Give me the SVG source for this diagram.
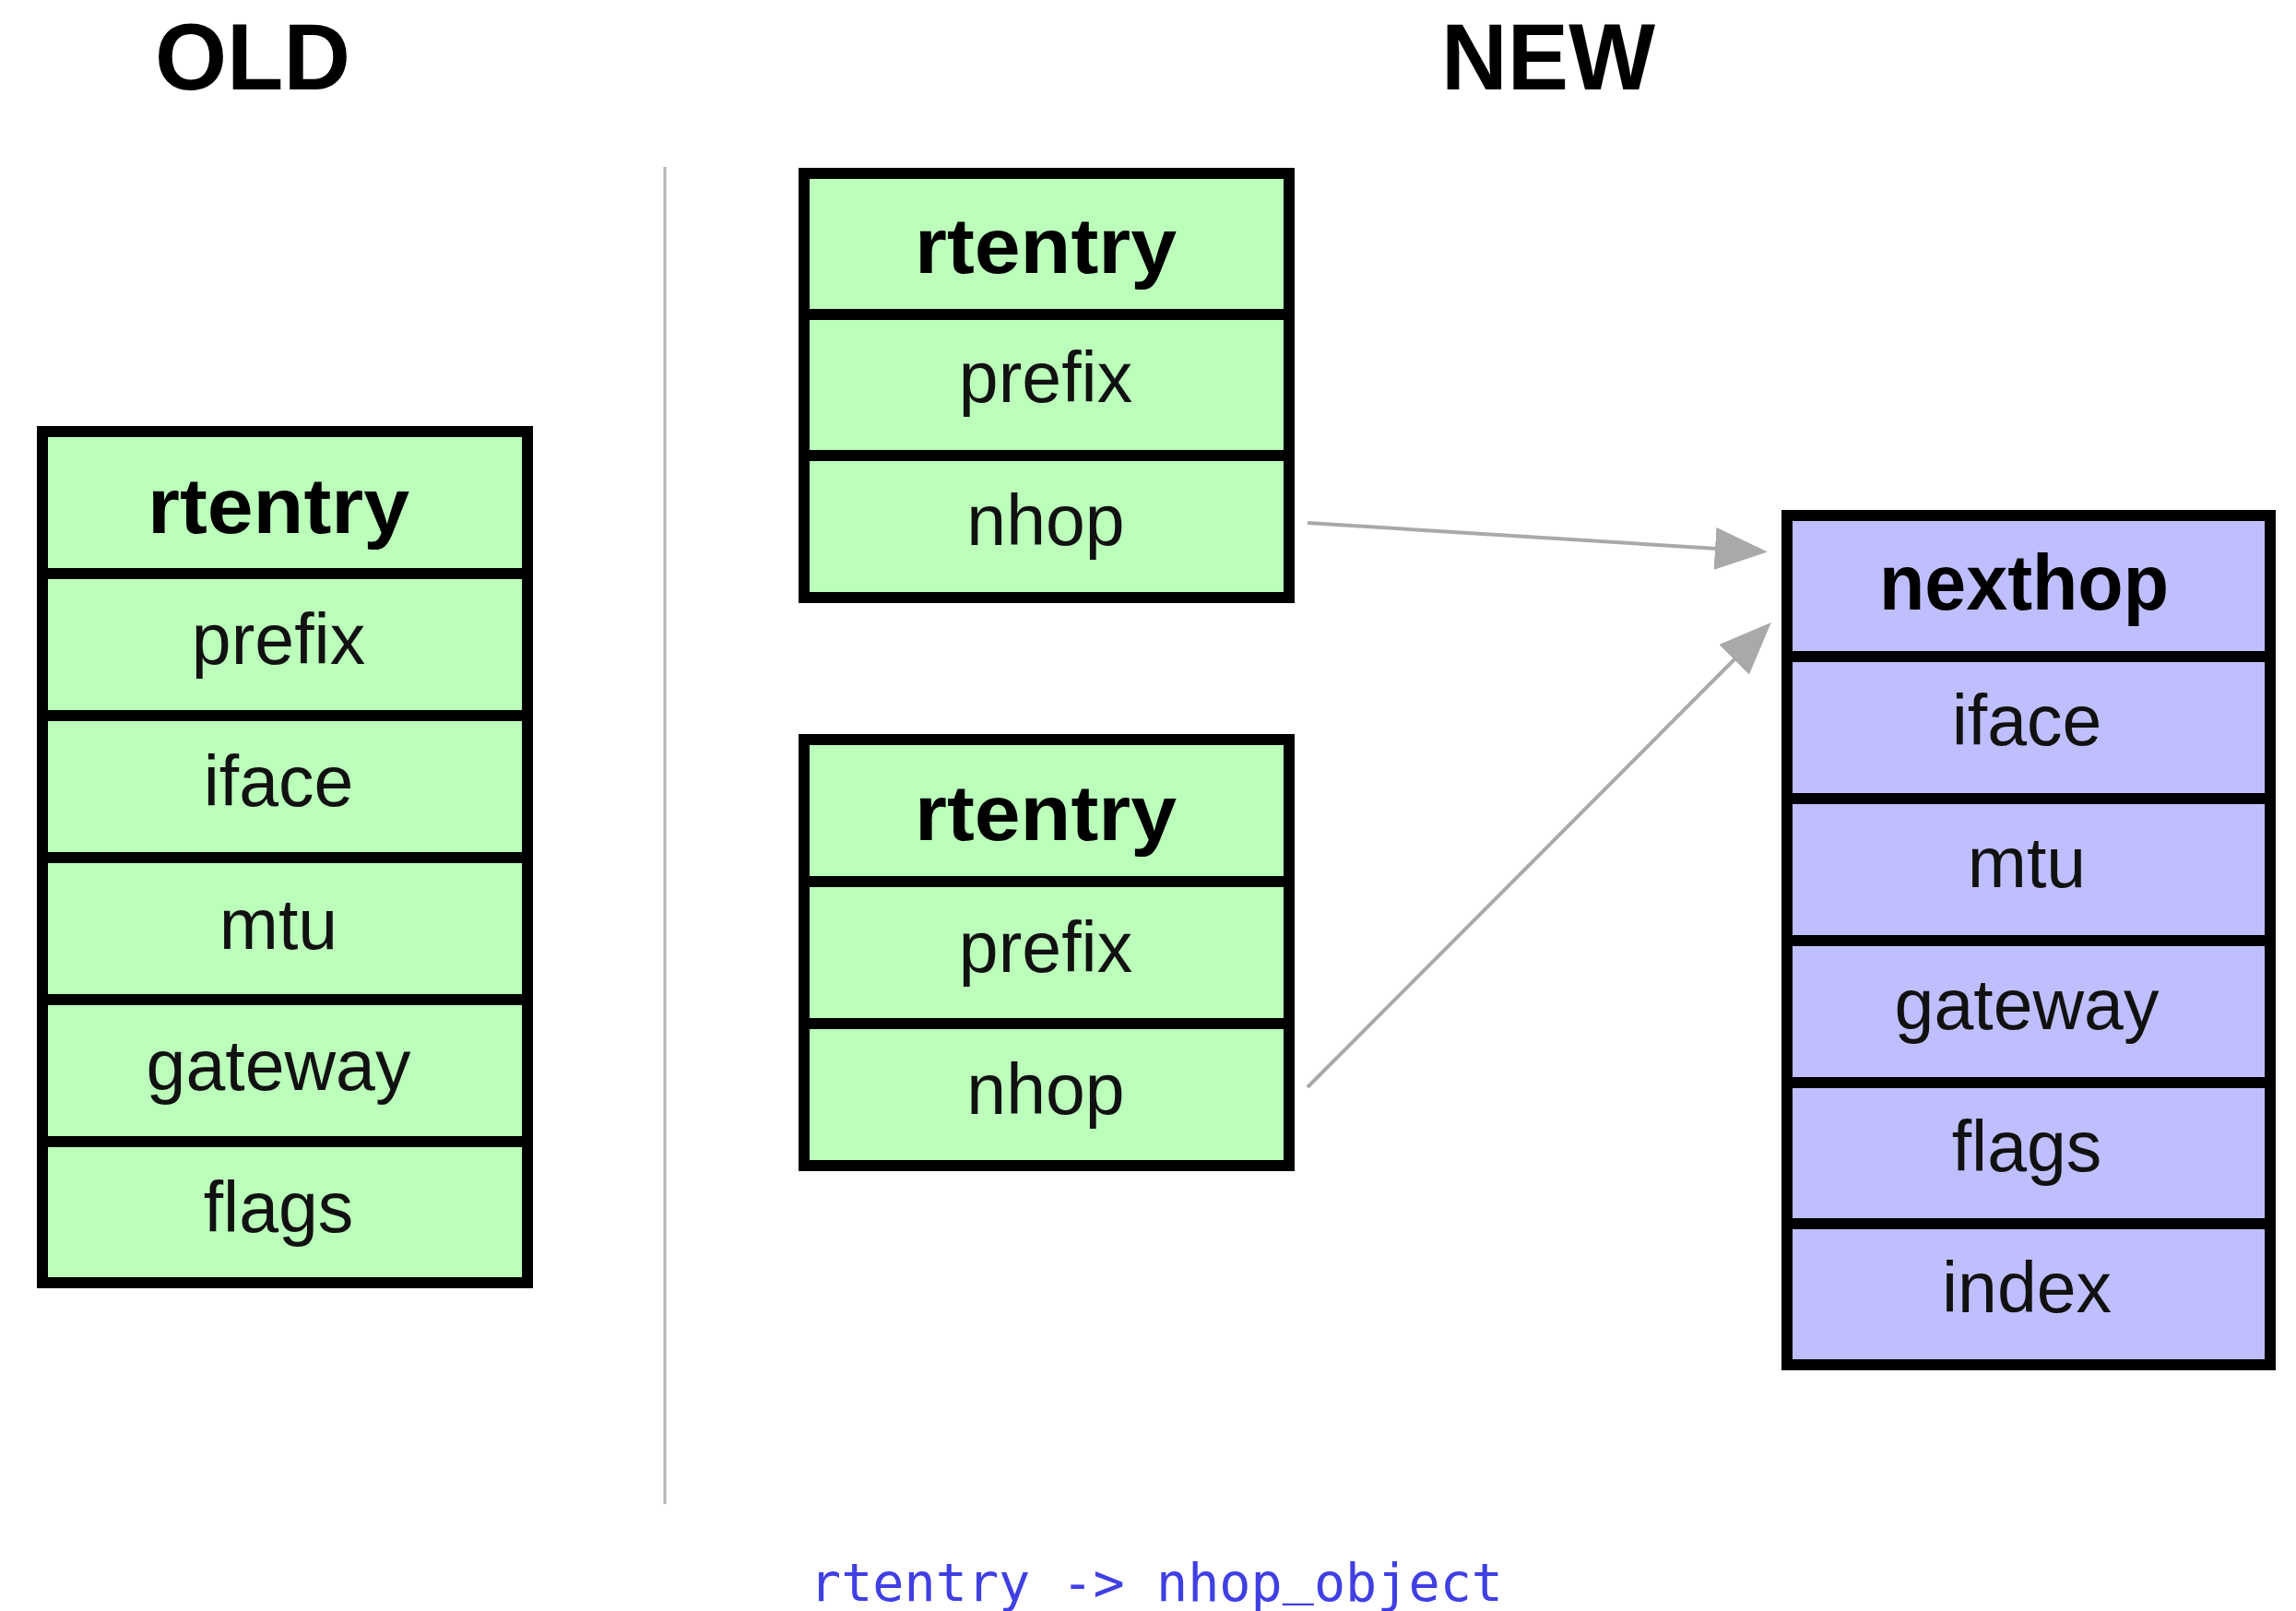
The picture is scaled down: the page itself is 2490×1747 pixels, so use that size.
<svg xmlns="http://www.w3.org/2000/svg" width="2490" height="1747" viewBox="0 0 2490 1747">
  <style>
    .title { font-family: "Liberation Sans", Arial, Helvetica, sans-serif; font-weight: bold; font-size: 102px; fill: #000; text-anchor: middle; }
    .box { stroke: #000; stroke-width: 12; stroke-linejoin: miter; }
    .green { fill: #bbffbb; }
    .purple { fill: #bfbfff; }
    .sep { stroke: #000; stroke-width: 12; }
    .head { font-family: "Liberation Sans", Arial, Helvetica, sans-serif; font-weight: bold; font-size: 86px; fill: #000; text-anchor: middle; }
    .field { font-family: "Liberation Sans", Arial, Helvetica, sans-serif; font-size: 77px; fill: #111; text-anchor: middle; }
    .link { stroke: #a9a9a9; stroke-width: 4; fill: none; marker-end: url(#head); }
    .caption { font-family: "DejaVu Sans Mono", "Liberation Mono", monospace; font-size: 57px; fill: #3f3fe3; }
  </style>
  <defs>
    <marker id="head" viewBox="0 0 57 46" refX="2" refY="23" markerWidth="57" markerHeight="46" markerUnits="userSpaceOnUse" orient="auto">
      <path d="M0,0 L57,23 L0,46 Z" fill="#a9a9a9"/>
    </marker>
  </defs>

  <rect width="2490" height="1747" fill="#ffffff"/>

  <!-- section titles -->
  <text class="title" x="274" y="97" textLength="212" lengthAdjust="spacingAndGlyphs">OLD</text>
  <text class="title" x="1679" y="97" textLength="232" lengthAdjust="spacingAndGlyphs">NEW</text>

  <!-- vertical separator between the two layouts -->
  <line id="separator" x1="721" y1="181" x2="721" y2="1631" stroke="#b4b4b4" stroke-width="3"/>

  <!-- old rtentry structure -->
  <g id="old-rtentry">
    <rect class="box green" x="46" y="468" width="526" height="923"/>
    <line class="sep" x1="46" y1="622" x2="572" y2="622"/>
    <line class="sep" x1="46" y1="776" x2="572" y2="776"/>
    <line class="sep" x1="46" y1="930" x2="572" y2="930"/>
    <line class="sep" x1="46" y1="1084" x2="572" y2="1084"/>
    <line class="sep" x1="46" y1="1238" x2="572" y2="1238"/>
    <text class="head" x="302" y="578" textLength="284" lengthAdjust="spacingAndGlyphs">rtentry</text>
    <text class="field" x="302" y="720">prefix</text>
    <text class="field" x="302" y="874">iface</text>
    <text class="field" x="302" y="1029">mtu</text>
    <text class="field" x="302" y="1182">gateway</text>
    <text class="field" x="302" y="1336">flags</text>
  </g>

  <!-- new rtentry (first) -->
  <g id="new-rtentry-1">
    <rect class="box green" x="872" y="188" width="526" height="460"/>
    <line class="sep" x1="872" y1="341" x2="1398" y2="341"/>
    <line class="sep" x1="872" y1="494" x2="1398" y2="494"/>
    <text class="head" x="1134" y="296" textLength="284" lengthAdjust="spacingAndGlyphs">rtentry</text>
    <text class="field" x="1134" y="436">prefix</text>
    <text class="field" x="1134" y="591">nhop</text>
  </g>

  <!-- new rtentry (second) -->
  <g id="new-rtentry-2">
    <rect class="box green" x="872" y="802" width="526" height="462"/>
    <line class="sep" x1="872" y1="956" x2="1398" y2="956"/>
    <line class="sep" x1="872" y1="1110" x2="1398" y2="1110"/>
    <text class="head" x="1134" y="911" textLength="284" lengthAdjust="spacingAndGlyphs">rtentry</text>
    <text class="field" x="1134" y="1054">prefix</text>
    <text class="field" x="1134" y="1208">nhop</text>
  </g>

  <!-- shared nexthop object -->
  <g id="nexthop">
    <rect class="box purple" x="1938" y="559" width="524" height="921"/>
    <line class="sep" x1="1938" y1="712" x2="2462" y2="712"/>
    <line class="sep" x1="1938" y1="866" x2="2462" y2="866"/>
    <line class="sep" x1="1938" y1="1020" x2="2462" y2="1020"/>
    <line class="sep" x1="1938" y1="1174" x2="2462" y2="1174"/>
    <line class="sep" x1="1938" y1="1327" x2="2462" y2="1327"/>
    <text class="head" x="2195" y="661" font-size="82" textLength="314" lengthAdjust="spacingAndGlyphs">nexthop</text>
    <text class="field" x="2198" y="808">iface</text>
    <text class="field" x="2198" y="962">mtu</text>
    <text class="field" x="2198" y="1116">gateway</text>
    <text class="field" x="2198" y="1270">flags</text>
    <text class="field" x="2198" y="1423">index</text>
  </g>

  <!-- nhop pointers -->
  <g id="connectors">
    <line class="link" x1="1418" y1="567" x2="1862" y2="595"/>
    <line class="link" x1="1418" y1="1179" x2="1882" y2="714"/>
  </g>

  <!-- caption; the underscore is lifted a little so it stays on the canvas -->
  <text class="caption" x="878" y="1736" textLength="752" lengthAdjust="spacingAndGlyphs">rtentry -&gt; nhop<tspan dy="-8">_</tspan><tspan dy="8">object</tspan></text>
</svg>
